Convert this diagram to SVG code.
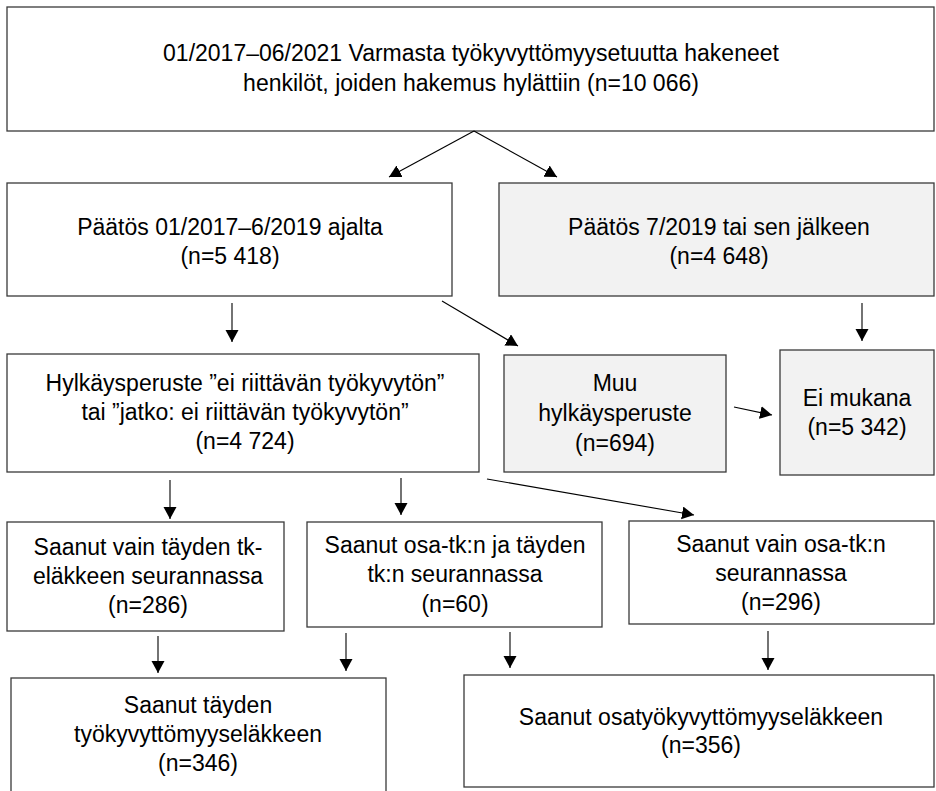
<svg xmlns="http://www.w3.org/2000/svg" width="936" height="791" viewBox="0 0 936 791">
<style>
.box{fill:#ffffff;stroke:#3a3a3a;stroke-width:1.3}
.grey{fill:#f2f2f2}
text{font-family:"Liberation Sans",Arial,sans-serif;font-size:23px;fill:#000;text-anchor:middle}
.con line{stroke:#000;stroke-width:1.1;marker-end:url(#ah)}
</style>
<defs>
<marker id="ah" markerUnits="userSpaceOnUse" markerWidth="13" markerHeight="14" refX="12" refY="6.5" orient="auto">
<path d="M0,0 L12,6.5 L0,13 z" fill="#000"/>
</marker>
</defs>
<rect width="936" height="791" fill="#fff"/>
<g id="n-top">
<rect class="box" x="7" y="7" width="927" height="124"/>
<text x="471" y="61">01/2017–06/2021 Varmasta työkyvyttömyysetuutta hakeneet</text>
<text x="471" y="91">henkilöt, joiden hakemus hylättiin (n=10 066)</text>
</g>
<g id="n-paatos1">
<rect class="box" x="7" y="183" width="445" height="113"/>
<text x="230" y="235">Päätös 01/2017–6/2019 ajalta</text>
<text x="230" y="264">(n=5 418)</text>
</g>
<g id="n-paatos2">
<rect class="box grey" x="499" y="183" width="435" height="113"/>
<text x="719" y="235">Päätös 7/2019 tai sen jälkeen</text>
<text x="719" y="264">(n=4 648)</text>
</g>
<g id="n-hylk">
<rect class="box" x="7" y="354" width="472" height="118"/>
<text x="245" y="391">Hylkäysperuste ”ei riittävän työkyvytön”</text>
<text x="245" y="420">tai ”jatko: ei riittävän työkyvytön”</text>
<text x="245" y="449">(n=4 724)</text>
</g>
<g id="n-muu">
<rect class="box grey" x="504" y="355" width="222" height="117"/>
<text x="615" y="391">Muu</text>
<text x="615" y="421">hylkäysperuste</text>
<text x="615" y="451">(n=694)</text>
</g>
<g id="n-ei">
<rect class="box grey" x="780" y="350" width="154" height="125"/>
<text x="857" y="406">Ei mukana</text>
<text x="857" y="435">(n=5 342)</text>
</g>
<g id="n-taysi-only">
<rect class="box" x="7" y="522" width="277" height="109"/>
<text x="148" y="555">Saanut vain täyden tk-</text>
<text x="148" y="584">eläkkeen seurannassa</text>
<text x="148" y="613">(n=286)</text>
</g>
<g id="n-osa-taysi">
<rect class="box" x="307" y="522" width="295" height="105"/>
<text x="455" y="553">Saanut osa-tk:n ja täyden</text>
<text x="455" y="582">tk:n seurannassa</text>
<text x="455" y="612">(n=60)</text>
</g>
<g id="n-osa-only">
<rect class="box" x="629" y="521" width="305" height="103"/>
<text x="781" y="552">Saanut vain osa-tk:n</text>
<text x="781" y="581">seurannassa</text>
<text x="781" y="610">(n=296)</text>
</g>
<g id="n-taysi">
<rect class="box" x="11" y="678" width="375" height="120"/>
<text x="198" y="713">Saanut täyden</text>
<text x="198" y="742">työkyvyttömyyseläkkeen</text>
<text x="198" y="771">(n=346)</text>
</g>
<g id="n-osa">
<rect class="box" x="464" y="675" width="470" height="112"/>
<text x="701" y="725">Saanut osatyökyvyttömyyseläkkeen</text>
<text x="701" y="753">(n=356)</text>
</g>
<g id="connectors" class="con">
<line x1="474" y1="131" x2="389" y2="177"/>
<line x1="474" y1="131" x2="557" y2="177"/>
<line x1="232" y1="303" x2="232" y2="342"/>
<line x1="442" y1="301" x2="518" y2="346"/>
<line x1="862" y1="303" x2="862" y2="341"/>
<line x1="734" y1="407" x2="772" y2="415"/>
<line x1="170" y1="480" x2="170" y2="519"/>
<line x1="401" y1="478" x2="401" y2="515"/>
<line x1="487" y1="479" x2="694" y2="515"/>
<line x1="158" y1="636" x2="158" y2="673"/>
<line x1="346" y1="633" x2="346" y2="671"/>
<line x1="510" y1="632" x2="510" y2="668"/>
<line x1="768" y1="631" x2="768" y2="670"/>
</g>
</svg>
